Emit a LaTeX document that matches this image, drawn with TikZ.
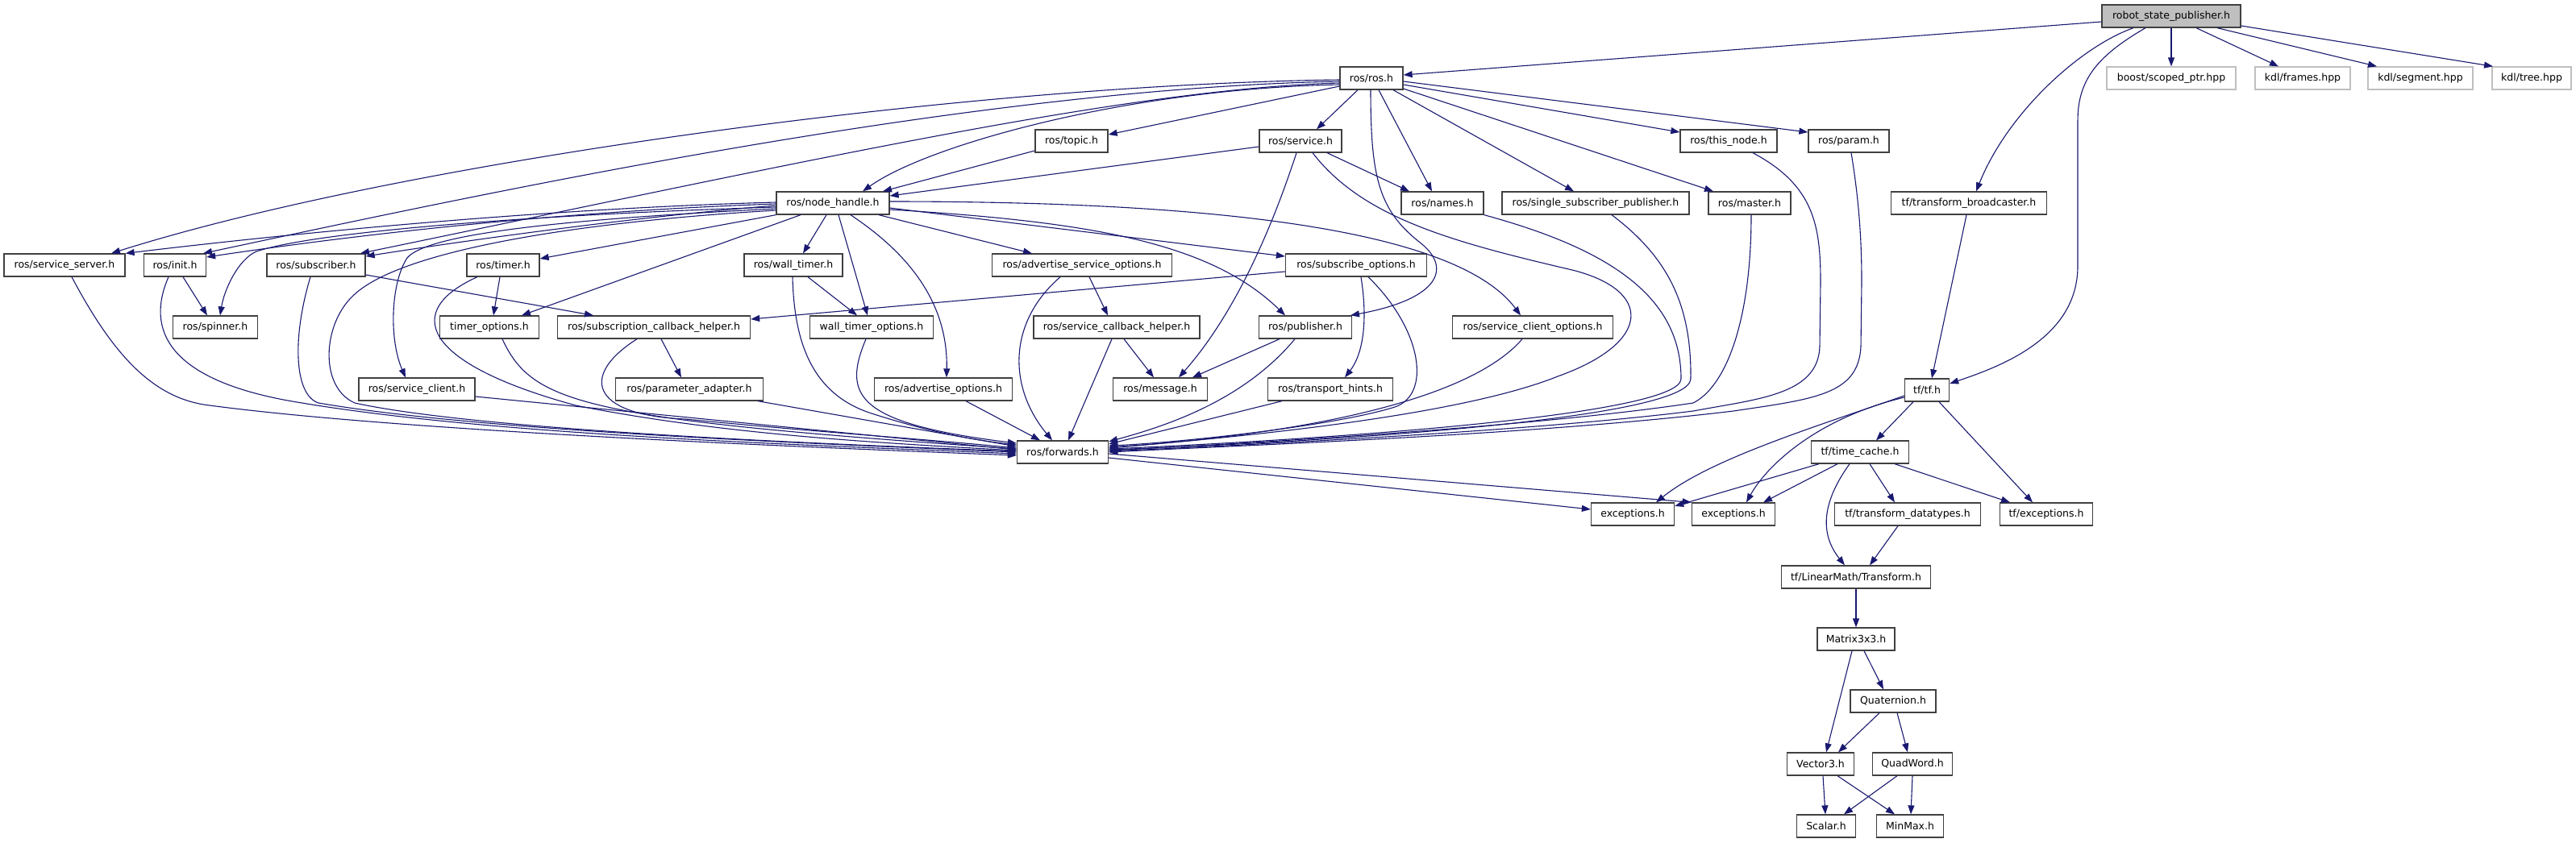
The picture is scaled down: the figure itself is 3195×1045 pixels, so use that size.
\documentclass[tikz,border=0pt]{standalone}
\usepackage{fontspec}
\setmainfont{DejaVu Sans}
\usetikzlibrary{arrows.meta}
\definecolor{edgec}{HTML}{191970}
\definecolor{boxc}{HTML}{404040}
\definecolor{extc}{HTML}{BFBFBF}
\definecolor{rspfill}{HTML}{BFBFBF}
\tikzset{
  hbox/.style={draw=boxc, line width=1.3pt, fill=white, inner sep=0pt, minimum height=28pt, font=\fontsize{12.5pt}{14pt}\selectfont, text=black},
  xbox/.style={hbox, draw=extc},
  dep/.style={draw=edgec, line width=1.1pt, -{Triangle[length=11pt,width=8pt]}},
}
\begin{document}
\begin{tikzpicture}[x=1pt,y=-1pt]
\fill[white] (0,0) rectangle (3195,1045);
\useasboundingbox (0,0) rectangle (3195,1045);
% nodes
\node[hbox, fill=rspfill, minimum width=172pt] (rsp) at (2693,20) {robot\_state\_publisher.h};
\node[hbox, minimum width=78pt] (ros) at (1701,97) {ros/ros.h};
\node[xbox, minimum width=160pt] (boost) at (2693,97) {boost/scoped\_ptr.hpp};
\node[xbox, minimum width=118pt] (frames) at (2856,97) {kdl/frames.hpp};
\node[xbox, minimum width=130pt] (segment) at (3002,97) {kdl/segment.hpp};
\node[xbox, minimum width=98pt] (tree) at (3140,97) {kdl/tree.hpp};
\node[hbox, minimum width=90pt] (topic) at (1329,175) {ros/topic.h};
\node[hbox, minimum width=102pt] (service) at (1613,175) {ros/service.h};
\node[hbox, minimum width=120pt] (thisnode) at (2144,175) {ros/this\_node.h};
\node[hbox, minimum width=100pt] (param) at (2293,175) {ros/param.h};
\node[hbox, minimum width=140pt] (nh) at (1033,252) {ros/node\_handle.h};
\node[hbox, minimum width=102pt] (names) at (1789,252) {ros/names.h};
\node[hbox, minimum width=232pt] (ssp) at (1979,252) {ros/single\_subscriber\_publisher.h};
\node[hbox, minimum width=102pt] (master) at (2170,252) {ros/master.h};
\node[hbox, minimum width=193pt] (tfb) at (2442,252) {tf/transform\_broadcaster.h};
\node[hbox, minimum width=150pt] (sserver) at (80,329) {ros/service\_server.h};
\node[hbox, minimum width=77pt] (init) at (217,329) {ros/init.h};
\node[hbox, minimum width=122pt] (subscriber) at (392,329) {ros/subscriber.h};
\node[hbox, minimum width=90pt] (timer) at (624,329) {ros/timer.h};
\node[hbox, minimum width=122pt] (walltimer) at (984,329) {ros/wall\_timer.h};
\node[hbox, minimum width=223pt] (aso) at (1342,329) {ros/advertise\_service\_options.h};
\node[hbox, minimum width=175pt] (subopts) at (1682,329) {ros/subscribe\_options.h};
\node[hbox, minimum width=105pt] (spinner) at (267,406) {ros/spinner.h};
\node[hbox, minimum width=123pt] (timeropts) at (607,406) {timer\_options.h};
\node[hbox, minimum width=239pt] (sch) at (811,406) {ros/subscription\_callback\_helper.h};
\node[hbox, minimum width=153pt] (wto) at (1081,406) {wall\_timer\_options.h};
\node[hbox, minimum width=206pt] (scbh) at (1385,406) {ros/service\_callback\_helper.h};
\node[hbox, minimum width=115pt] (publisher) at (1619,406) {ros/publisher.h};
\node[hbox, minimum width=199pt] (sco) at (1901,406) {ros/service\_client\_options.h};
\node[hbox, minimum width=144pt] (sclient) at (517,483) {ros/service\_client.h};
\node[hbox, minimum width=183pt] (padapter) at (855,483) {ros/parameter\_adapter.h};
\node[hbox, minimum width=171pt] (advopts) at (1170,483) {ros/advertise\_options.h};
\node[hbox, minimum width=117pt] (message) at (1439,483) {ros/message.h};
\node[hbox, minimum width=155pt] (thints) at (1650,483) {ros/transport\_hints.h};
\node[hbox, minimum width=55pt] (tf) at (2390,484) {tf/tf.h};
\node[hbox, minimum width=113pt] (forwards) at (1318,561) {ros/forwards.h};
\node[hbox, minimum width=121pt] (timecache) at (2307,561) {tf/time\_cache.h};
\node[hbox, minimum width=103pt] (exc1) at (2025,638) {exceptions.h};
\node[hbox, minimum width=103pt] (exc2) at (2150,638) {exceptions.h};
\node[hbox, minimum width=181pt] (tfdt) at (2366,638) {tf/transform\_datatypes.h};
\node[hbox, minimum width=115pt] (tfexc) at (2538,638) {tf/exceptions.h};
\node[hbox, minimum width=185pt] (transform) at (2302,716) {tf/LinearMath/Transform.h};
\node[hbox, minimum width=96pt] (matrix) at (2302,793) {Matrix3x3.h};
\node[hbox, minimum width=106pt] (quat) at (2348,870) {Quaternion.h};
\node[hbox, minimum width=83pt] (vector) at (2258,948) {Vector3.h};
\node[hbox, minimum width=99pt] (quadword) at (2372,948) {QuadWord.h};
\node[hbox, minimum width=73pt] (scalar) at (2265,1025) {Scalar.h};
\node[hbox, minimum width=83pt] (minmax) at (2369,1025) {MinMax.h};
% robot_state_publisher.h
\draw[dep] ([yshift=-7pt]rsp.west) -- ([yshift=4pt]ros.east);
\draw[dep] (rsp.south) -- (boost.north);
\draw[dep] ([xshift=31pt]rsp.south) -- ([xshift=-30pt]frames.north);
\draw[dep] ([xshift=57pt]rsp.south) -- ([xshift=-54pt]segment.north);
\draw[dep] ([yshift=-12pt]rsp.east) -- ([xshift=-48pt]tree.north);
\draw[dep] ([xshift=-47pt]rsp.south) .. controls (2580,58) and (2490,140) .. ([xshift=9pt]tfb.north);
\draw[dep] ([xshift=-32pt]rsp.south) .. controls (2600,70) and (2577,100) .. (2577,150) -- (2577,330) .. controls (2577,420) and (2480,455) .. ([yshift=8pt]tf.east);
% ros/ros.h
\draw[dep] ([yshift=-2pt]ros.west) .. controls (1200,105) and (500,200) .. ([xshift=58pt]sserver.north);
\draw[dep] ([yshift=-4pt]ros.west) .. controls (1200,110) and (600,240) .. ([xshift=35pt]init.north);
\draw[dep] ([yshift=-6pt]ros.west) .. controls (1400,110) and (1000,200) .. ([xshift=55pt]subscriber.north);
\draw[dep] ([yshift=-8pt]ros.west) .. controls (1400,110) and (1150,180) .. ([xshift=37pt]nh.north);
\draw[dep] ([yshift=-10pt]ros.west) -- ([yshift=8pt]topic.east);
\draw[dep] ([xshift=-17pt]ros.south) -- ([xshift=20pt]service.north);
\draw[dep] ([xshift=9pt]ros.south) -- ([xshift=-13pt]names.north);
\draw[dep] ([xshift=27pt]ros.south) -- ([xshift=-27pt]ssp.north);
\draw[dep] ([yshift=-13pt]ros.east) -- ([xshift=-45pt]master.north);
\draw[dep] ([yshift=-8pt]ros.east) -- ([yshift=11pt]thisnode.west);
\draw[dep] ([yshift=-4pt]ros.east) -- ([yshift=11pt]param.west);
\draw[dep] ([xshift=-1pt]ros.south) .. controls (1700,220) and (1710,260) .. (1760,300) .. controls (1800,330) and (1790,370) .. ([xshift=56pt]publisher.north);
% ros/service.h, ros/topic.h
\draw[dep] ([yshift=-7pt]service.west) -- ([yshift=9pt]nh.east);
\draw[dep] ([xshift=33pt]service.south) -- ([xshift=-41pt]names.north);
\draw[dep] ([xshift=-5pt]service.south) .. controls (1585,260) and (1540,380) .. ([xshift=23pt]message.north);
\draw[dep] ([xshift=15pt]service.south) .. controls (1690,270) and (1800,300) .. (1950,335) .. controls (2050,360) and (2050,425) .. (1932,467) .. controls (1800,520) and (1500,545) .. ([yshift=5pt]forwards.east);
\draw[dep] ([yshift=-12pt]topic.west) -- ([xshift=62pt]nh.north);
% ros/node_handle.h
\draw[dep] ([yshift=1pt]nh.west) .. controls (700,258) and (400,285) .. (sserver.north east);
\draw[dep] ([yshift=-1pt]nh.west) .. controls (700,262) and (450,290) .. ([yshift=10pt]init.east);
\draw[dep] ([yshift=-3pt]nh.west) .. controls (800,268) and (600,295) .. ([yshift=11pt]subscriber.east);
\draw[dep] ([yshift=-5pt]nh.west) .. controls (700,265) and (400,285) .. (318,312) .. controls (295,322) and (278,360) .. ([xshift=6pt]spinner.north);
\draw[dep] ([yshift=-7pt]nh.west) .. controls (700,272) and (530,290) .. (505,320) .. controls (485,350) and (482,420) .. ([xshift=-14pt]sclient.north);
\draw[dep] ([yshift=-9pt]nh.west) .. controls (720,275) and (500,310) .. (440,365) .. controls (400,400) and (395,480) .. (440,500) .. controls (600,535) and (1050,552) .. ([yshift=1pt]forwards.west);
\draw[dep] (nh.south west) -- ([yshift=8pt]timer.east);
\draw[dep] ([xshift=-40pt]nh.south) -- ([xshift=40pt]timeropts.north);
\draw[dep] ([xshift=-8pt]nh.south) -- ([xshift=12pt]walltimer.north);
\draw[dep] ([xshift=7pt]nh.south) -- ([xshift=-5pt]wto.north);
\draw[dep] ([xshift=22pt]nh.south) .. controls (1120,310) and (1176,370) .. ([xshift=4pt]advopts.north);
\draw[dep] ([xshift=57pt]nh.south) -- ([xshift=-62pt]aso.north);
\draw[dep] ([yshift=-6pt]nh.east) -- ([yshift=11pt]subopts.west);
\draw[dep] ([yshift=-8pt]nh.east) .. controls (1350,275) and (1500,300) .. ([xshift=-25pt]publisher.north);
\draw[dep] ([yshift=2pt]nh.east) .. controls (1450,250) and (1800,275) .. ([xshift=-15pt]sco.north);
% left group
\draw[dep] ([xshift=10pt]init.south) -- ([xshift=-10pt]spinner.north);
\draw[dep] ([xshift=-8pt]init.south) .. controls (180,410) and (210,470) .. (357,497) .. controls (600,540) and (1000,552) .. ([yshift=-2pt]forwards.west);
\draw[dep] ([xshift=9pt]sserver.south) .. controls (140,440) and (190,495) .. (260,503) .. controls (500,535) and (1000,555) .. ([yshift=-4pt]forwards.west);
\draw[dep] ([xshift=-7pt]subscriber.south) .. controls (362,420) and (365,490) .. (395,500) .. controls (600,535) and (1000,550) .. (forwards.west);
\draw[dep] ([yshift=-12pt]subscriber.east) -- ([xshift=-75pt]sch.north);
\draw[dep] ([xshift=-4pt]timer.south) -- ([xshift=5pt]timeropts.north);
\draw[dep] ([xshift=-32pt]timer.south) .. controls (500,385) and (520,450) .. (714,503) .. controls (900,540) and (1100,550) .. ([yshift=2pt]forwards.west);
\draw[dep] ([xshift=16pt]timeropts.south) .. controls (660,500) and (720,520) .. ([yshift=4pt]forwards.west);
\draw[dep] ([yshift=-9pt]sclient.east) -- ([yshift=3pt]forwards.west);
\draw[dep] ([xshift=9pt]sch.south) -- ([xshift=-10pt]padapter.north);
\draw[dep] ([xshift=-21pt]sch.south) .. controls (720,465) and (730,515) .. (850,520) .. controls (1000,535) and (1150,545) .. ([yshift=5pt]forwards.west);
\draw[dep] ([xshift=85pt]padapter.south) -- ([yshift=7pt]forwards.west);
\draw[dep] ([xshift=18pt]walltimer.south) -- ([xshift=-18pt]wto.north);
\draw[dep] ([xshift=-1pt]walltimer.south) .. controls (985,430) and (1010,490) .. (1081,513) .. controls (1150,535) and (1200,545) .. ([yshift=9pt]forwards.west);
\draw[dep] ([xshift=-7pt]wto.south) .. controls (1045,490) and (1060,525) .. ([yshift=11pt]forwards.west);
% middle group
\draw[dep] ([xshift=9pt]aso.south) -- ([xshift=-11pt]scbh.north);
\draw[dep] ([xshift=-27pt]aso.south) .. controls (1250,400) and (1250,480) .. ([xshift=-13pt]forwards.north);
\draw[dep] ([xshift=28pt]advopts.south) -- ([xshift=-28pt]forwards.north);
\draw[dep] ([xshift=9pt]scbh.south) -- ([xshift=-8pt]message.north);
\draw[dep] ([xshift=-6pt]scbh.south) -- ([xshift=7pt]forwards.north);
\draw[dep] ([xshift=-32pt]publisher.south) -- ([xshift=40pt]message.north);
\draw[dep] ([xshift=-13pt]publisher.south) .. controls (1540,500) and (1440,530) .. ([yshift=13pt]forwards.east);
\draw[dep] ([yshift=-8pt]subopts.west) -- ([yshift=10pt]sch.east);
\draw[dep] ([xshift=6pt]subopts.south) .. controls (1697,400) and (1690,440) .. ([xshift=18pt]thints.north);
\draw[dep] ([xshift=15pt]subopts.south) .. controls (1765,410) and (1775,490) .. (1730,505) .. controls (1650,530) and (1450,550) .. ([yshift=8pt]forwards.east);
\draw[dep] ([xshift=-60pt]thints.south) -- ([yshift=10pt]forwards.east);
\draw[dep] ([xshift=-13pt]sco.south) .. controls (1820,500) and (1600,540) .. ([yshift=6pt]forwards.east);
% right ros group
\draw[dep] (names.south east) .. controls (2000,310) and (2085,370) .. (2085,470) .. controls (2085,515) and (1650,545) .. ([yshift=4pt]forwards.east);
\draw[dep] ([xshift=20pt]ssp.south) .. controls (2070,320) and (2098,380) .. (2097,470) .. controls (2096,520) and (1650,548) .. ([yshift=3pt]forwards.east);
\draw[dep] ([xshift=2pt]master.south) .. controls (2172,400) and (2140,480) .. (2100,500) .. controls (1900,530) and (1550,550) .. ([yshift=2pt]forwards.east);
\draw[dep] ([xshift=30pt]thisnode.south) .. controls (2250,230) and (2258,280) .. (2258,350) -- (2257,430) .. controls (2255,490) and (2180,495) .. (2100,510) .. controls (1900,535) and (1550,552) .. ([yshift=1pt]forwards.east);
\draw[dep] ([xshift=3pt]param.south) .. controls (2306,250) and (2309,300) .. (2309,350) -- (2308,430) .. controls (2305,490) and (2250,495) .. (2150,510) .. controls (1900,540) and (1550,552) .. (forwards.east);
% tf group
\draw[dep] ([xshift=-3pt]tfb.south) -- ([xshift=6pt]tf.north);
\draw[dep] ([yshift=-7pt]tf.west) .. controls (2250,530) and (2120,570) .. ([xshift=29pt]exc1.north);
\draw[dep] ([yshift=-9pt]tf.west) .. controls (2250,520) and (2190,580) .. ([xshift=16pt]exc2.north);
\draw[dep] ([xshift=-17pt]tf.south) -- ([xshift=20pt]timecache.north);
\draw[dep] ([xshift=15pt]tf.south) -- ([xshift=-17pt]tfexc.north);
\draw[dep] ([xshift=-51pt]timecache.south) -- ([yshift=10pt]exc1.east);
\draw[dep] ([xshift=-28pt]timecache.south) -- ([xshift=37pt]exc2.north);
\draw[dep] ([xshift=-13pt]timecache.south) .. controls (2262,620) and (2255,660) .. ([xshift=-14pt]transform.north);
\draw[dep] ([xshift=12pt]timecache.south) -- ([xshift=-16pt]tfdt.north);
\draw[dep] ([xshift=43pt]timecache.south) -- ([xshift=-45pt]tfexc.north);
\draw[dep] ([yshift=-7pt]forwards.east) -- ([yshift=6pt]exc1.west);
\draw[dep] ([yshift=-2pt]forwards.east) -- (exc2.north west);
\draw[dep] ([xshift=-12pt]tfdt.south) -- ([xshift=17pt]transform.north);
\draw[dep] (transform.south) -- (matrix.north);
\draw[dep] ([xshift=-5pt]matrix.south) -- ([xshift=7pt]vector.north);
\draw[dep] ([xshift=10pt]matrix.south) -- ([xshift=-12pt]quat.north);
\draw[dep] ([xshift=-17pt]quat.south) -- ([xshift=22pt]vector.north);
\draw[dep] ([xshift=5pt]quat.south) -- ([xshift=-6pt]quadword.north);
\draw[dep] ([xshift=3pt]vector.south) -- ([xshift=-1pt]scalar.north);
\draw[dep] ([xshift=21pt]vector.south) -- ([xshift=-19pt]minmax.north);
\draw[dep] ([xshift=-19pt]quadword.south) -- ([xshift=22pt]scalar.north);
\draw[dep] (quadword.south) -- ([xshift=1pt]minmax.north);
\end{tikzpicture}
\end{document}
